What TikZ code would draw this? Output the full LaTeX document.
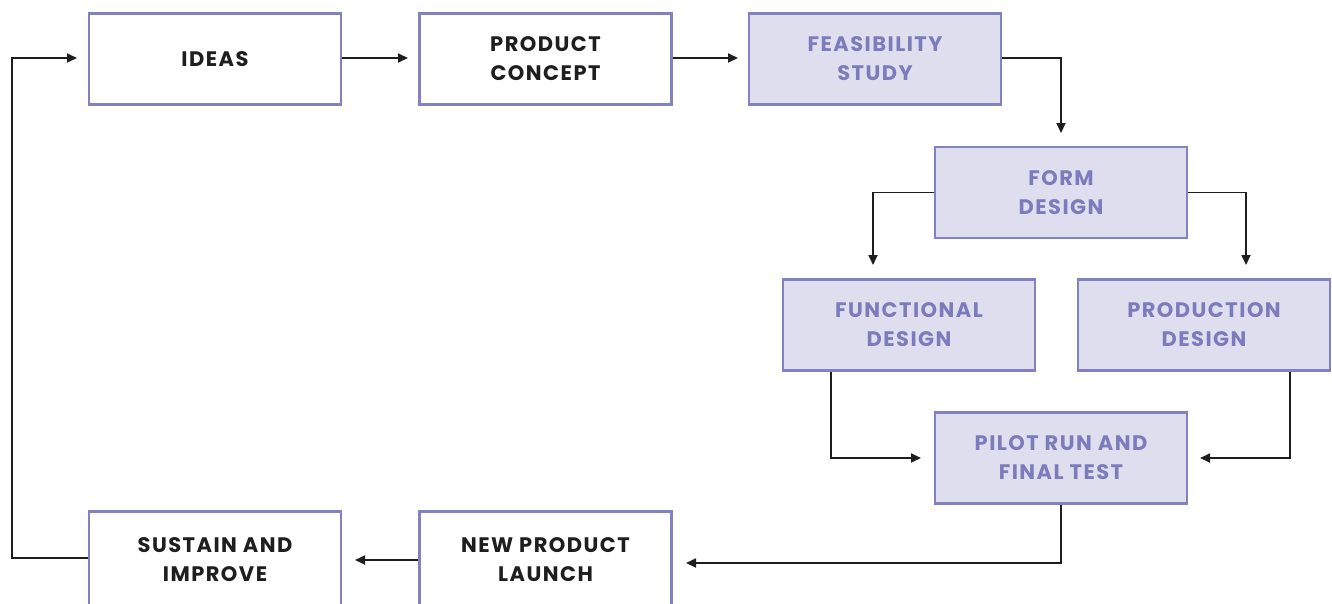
\documentclass[tikz,border=0pt]{standalone}
\usepackage{fontspec}
\setmainfont{Poppins}[UprightFont=* Bold, LetterSpace=7]
\usetikzlibrary{arrows.meta}
\definecolor{bord}{HTML}{8282C2}
\definecolor{lav}{HTML}{DFDEEE}
\definecolor{ptext}{HTML}{7C7CBC}
\definecolor{dtext}{HTML}{1E1E1E}
\tikzset{
  box/.style={draw=bord, line width=2.4pt, minimum width=252pt, minimum height=91pt,
    align=center, font=\fontsize{21}{29}\selectfont, inner sep=0pt},
  wbox/.style={box, fill=white, text=dtext},
  pbox/.style={box, fill=lav, text=ptext},
  conn/.style={draw=dtext, line width=1.8pt, -{Triangle[length=10pt,width=9pt]}},
}
\begin{document}
\begin{tikzpicture}[x=1pt,y=-1pt]
\useasboundingbox (0,0) rectangle (1332,603);
\clip (0,0) rectangle (1332,603);
\node[wbox] (ideas) at (215,59) {IDEAS};
\node[wbox] (concept) at (545.5,59) {PRODUCT\\CONCEPT};
\node[pbox] (feas) at (875,59) {FEASIBILITY\\STUDY};
\node[pbox] (form) at (1061,192.5) {FORM\\DESIGN};
\node[pbox] (func) at (909,325) {FUNCTIONAL\\DESIGN};
\node[pbox] (prod) at (1204,325) {PRODUCTION\\DESIGN};
\node[pbox] (pilot) at (1061,458) {PILOT RUN AND\\FINAL TEST};
\node[wbox, minimum height=97pt] (launch) at (545.5,560) {NEW PRODUCT\\LAUNCH};
\node[wbox, minimum height=97pt] (sustain) at (215,560) {SUSTAIN AND\\IMPROVE};
\coordinate (a1) at (408,58);
\coordinate (a2) at (738,58);
\coordinate (a3) at (1061,133);
\coordinate (a4) at (873,265);
\coordinate (a5) at (1246,265);
\coordinate (a6) at (921,458);
\coordinate (a7) at (1200,458);
\coordinate (a8) at (686,563);
\coordinate (a9) at (355,560);
\coordinate (a10) at (77,58);
\draw[conn] (ideas.east |- a1) -- (a1);
\draw[conn] (concept.east |- a2) -- (a2);
\draw[conn] (feas.east |- a2) -| (a3);
\draw[conn] (form.west) -| (a4);
\draw[conn] (form.east) -| (a5);
\draw[conn] (func.south -| 831,0) |- (a6);
\draw[conn] (prod.south -| 1290,0) |- (a7);
\draw[conn] (pilot.south) |- (a8);
\draw[conn] (launch.west |- a9) -- (a9);
\draw[conn] (sustain.west |- 0,558) -- (12,558) |- (a10);
\end{tikzpicture}
\end{document}
